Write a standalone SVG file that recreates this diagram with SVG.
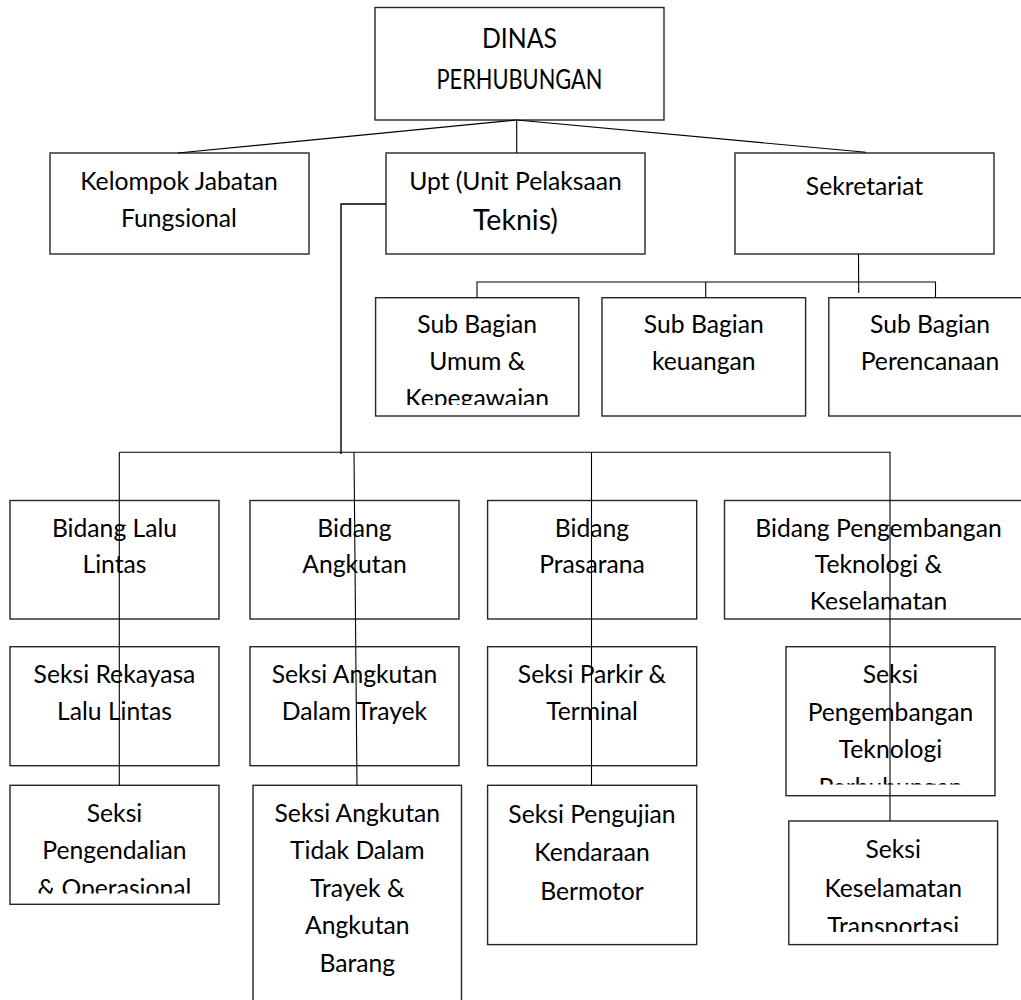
<svg xmlns="http://www.w3.org/2000/svg" width="1021" height="1000" viewBox="0 0 1021 1000">
<style>
  .box { fill: #ffffff; stroke: #262626; stroke-width: 1.4; }
  .t { font-family: Lato, "Open Sans", "Liberation Sans", sans-serif; font-size: 24.7px; fill: #000; text-anchor: middle; }
  .big { font-size: 28.5px; }
  .head { font-size: 26px; }
  .ln { stroke: #000; stroke-width: 1.1; fill: none; }
</style>
<defs>
  <clipPath id="c-sub1"><rect x="376" y="298" width="203" height="107"/></clipPath>
  <clipPath id="c-bpk"><rect x="725" y="501" width="300" height="108.5"/></clipPath>
  <clipPath id="c-spt"><rect x="786" y="647" width="209" height="137.5"/></clipPath>
  <clipPath id="c-spo"><rect x="10" y="785" width="209" height="108.5"/></clipPath>
  <clipPath id="c-skt"><rect x="789" y="821" width="209" height="111"/></clipPath>
</defs>

<g id="node-dinas">
  <rect class="box" x="375" y="7.5" width="289" height="112.5"/>
  <text class="t head" x="519.5" y="47.5" textLength="75" lengthAdjust="spacingAndGlyphs">DINAS</text>
  <text class="t head" x="519.5" y="88.5" textLength="166" lengthAdjust="spacingAndGlyphs">PERHUBUNGAN</text>
</g>
<g id="node-kelompok">
  <rect class="box" x="50" y="153" width="259" height="101"/>
  <text class="t" x="179" y="190">Kelompok Jabatan</text>
  <text class="t" x="179" y="226.5">Fungsional</text>
</g>
<g id="node-upt">
  <rect class="box" x="386" y="153" width="259" height="101"/>
  <text class="t" x="515.5" y="190">Upt (Unit Pelaksaan</text>
  <text class="t big" x="515.5" y="230">Teknis)</text>
</g>
<g id="node-sekretariat">
  <rect class="box" x="735" y="153" width="259" height="101"/>
  <text class="t" x="864.5" y="195">Sekretariat</text>
</g>

<g id="node-sub-umum">
  <rect class="box" x="375.6" y="297.7" width="203.2" height="118.3"/>
  <g clip-path="url(#c-sub1)">
    <text class="t" x="477.2" y="333.3">Sub Bagian</text>
    <text class="t" x="477.2" y="370">Umum &amp;</text>
    <text class="t" x="477.2" y="406.7">Kepegawaian</text>
  </g>
</g>
<g id="node-sub-keuangan">
  <rect class="box" x="602" y="297.7" width="203.6" height="118.3"/>
  <text class="t" x="703.8" y="333.3">Sub Bagian</text>
  <text class="t" x="703.8" y="370">keuangan</text>
</g>
<g id="node-sub-perencanaan">
  <rect class="box" x="828.8" y="297.7" width="202.4" height="118.3"/>
  <text class="t" x="930" y="333.3">Sub Bagian</text>
  <text class="t" x="930" y="370">Perencanaan</text>
</g>

<g id="node-bidang-lalulintas">
  <rect class="box" x="10" y="500.5" width="209" height="118.5"/>
  <text class="t" x="114.5" y="536.7">Bidang Lalu</text>
  <text class="t" x="114.5" y="573.3">Lintas</text>
</g>
<g id="node-bidang-angkutan">
  <rect class="box" x="250" y="500.5" width="209" height="118.5"/>
  <text class="t" x="354.5" y="536.7">Bidang</text>
  <text class="t" x="354.5" y="573.3">Angkutan</text>
</g>
<g id="node-bidang-prasarana">
  <rect class="box" x="487.6" y="500.5" width="209.1" height="118.5"/>
  <text class="t" x="592" y="536.7">Bidang</text>
  <text class="t" x="592" y="573.3">Prasarana</text>
</g>
<g id="node-bidang-pengembangan">
  <rect class="box" x="724.5" y="500.5" width="308.5" height="118.5"/>
  <g clip-path="url(#c-bpk)">
    <text class="t" x="878.5" y="536.7">Bidang Pengembangan</text>
    <text class="t" x="878.5" y="573.3">Teknologi &amp;</text>
    <text class="t" x="878.5" y="610">Keselamatan</text>
  </g>
</g>

<g id="node-seksi-rekayasa">
  <rect class="box" x="10" y="646.7" width="209" height="119"/>
  <text class="t" x="114.5" y="683">Seksi Rekayasa</text>
  <text class="t" x="114.5" y="720">Lalu Lintas</text>
</g>
<g id="node-seksi-dalam-trayek">
  <rect class="box" x="250" y="646.7" width="209" height="119"/>
  <text class="t" x="354.5" y="683">Seksi Angkutan</text>
  <text class="t" x="354.5" y="720">Dalam Trayek</text>
</g>
<g id="node-seksi-parkir">
  <rect class="box" x="487.6" y="646.7" width="209.1" height="119"/>
  <text class="t" x="592" y="683">Seksi Parkir &amp;</text>
  <text class="t" x="592" y="720">Terminal</text>
</g>
<g id="node-seksi-teknologi">
  <rect class="box" x="786" y="646.7" width="209" height="149"/>
  <g clip-path="url(#c-spt)">
    <text class="t" x="890.5" y="683.3">Seksi</text>
    <text class="t" x="890.5" y="720.7">Pengembangan</text>
    <text class="t" x="890.5" y="758.3">Teknologi</text>
    <text class="t" x="890.5" y="795.8">Perhubungan</text>
  </g>
</g>

<g id="node-seksi-pengendalian">
  <rect class="box" x="10" y="785.3" width="209" height="119"/>
  <g clip-path="url(#c-spo)">
    <text class="t" x="114.5" y="821.7">Seksi</text>
    <text class="t" x="114.5" y="859.3">Pengendalian</text>
    <text class="t" x="114.5" y="896.8">&amp; Operasional</text>
  </g>
</g>
<g id="node-seksi-tidak-dalam-trayek">
  <rect class="box" x="253" y="785.3" width="208.5" height="216"/>
  <text class="t" x="357.3" y="821.7">Seksi Angkutan</text>
  <text class="t" x="357.3" y="859">Tidak Dalam</text>
  <text class="t" x="357.3" y="896.5">Trayek &amp;</text>
  <text class="t" x="357.3" y="934">Angkutan</text>
  <text class="t" x="357.3" y="971.7">Barang</text>
</g>
<g id="node-seksi-pengujian">
  <rect class="box" x="487.6" y="785.3" width="209.1" height="159.3"/>
  <text class="t" x="592" y="822.5">Seksi Pengujian</text>
  <text class="t" x="592" y="861">Kendaraan</text>
  <text class="t" x="592" y="899.5">Bermotor</text>
</g>
<g id="node-seksi-keselamatan">
  <rect class="box" x="788.8" y="821" width="208.8" height="123.6"/>
  <g clip-path="url(#c-skt)">
    <text class="t" x="893.2" y="857.6">Seksi</text>
    <text class="t" x="893.2" y="896.5">Keselamatan</text>
    <text class="t" x="893.2" y="935">Transportasi</text>
  </g>
</g>

<g id="connectors">
  <line class="ln" x1="516.7" y1="120" x2="177.7" y2="153"/>
  <line class="ln" x1="516.7" y1="120" x2="516.7" y2="153"/>
  <line class="ln" x1="516.7" y1="120" x2="866" y2="152.3"/>
  <polyline class="ln" points="386,204 341,204 341,454" style="stroke-width:1.4"/>
  <line class="ln" x1="858.5" y1="254" x2="858.7" y2="293"/>
  <polyline class="ln" points="477,297.7 477,282 935.5,282 935.5,297.7"/>
  <line class="ln" x1="705.7" y1="282" x2="705.7" y2="297.7"/>
  <line class="ln" x1="119.3" y1="452.3" x2="890.5" y2="452.3"/>
  <line class="ln" x1="119.3" y1="452.3" x2="119.3" y2="785.3"/>
  <line class="ln" x1="354" y1="452.3" x2="357" y2="785.3"/>
  <line class="ln" x1="591.5" y1="452.3" x2="591.5" y2="785.3"/>
  <line class="ln" x1="890" y1="452.3" x2="890" y2="821"/>
</g>
</svg>
